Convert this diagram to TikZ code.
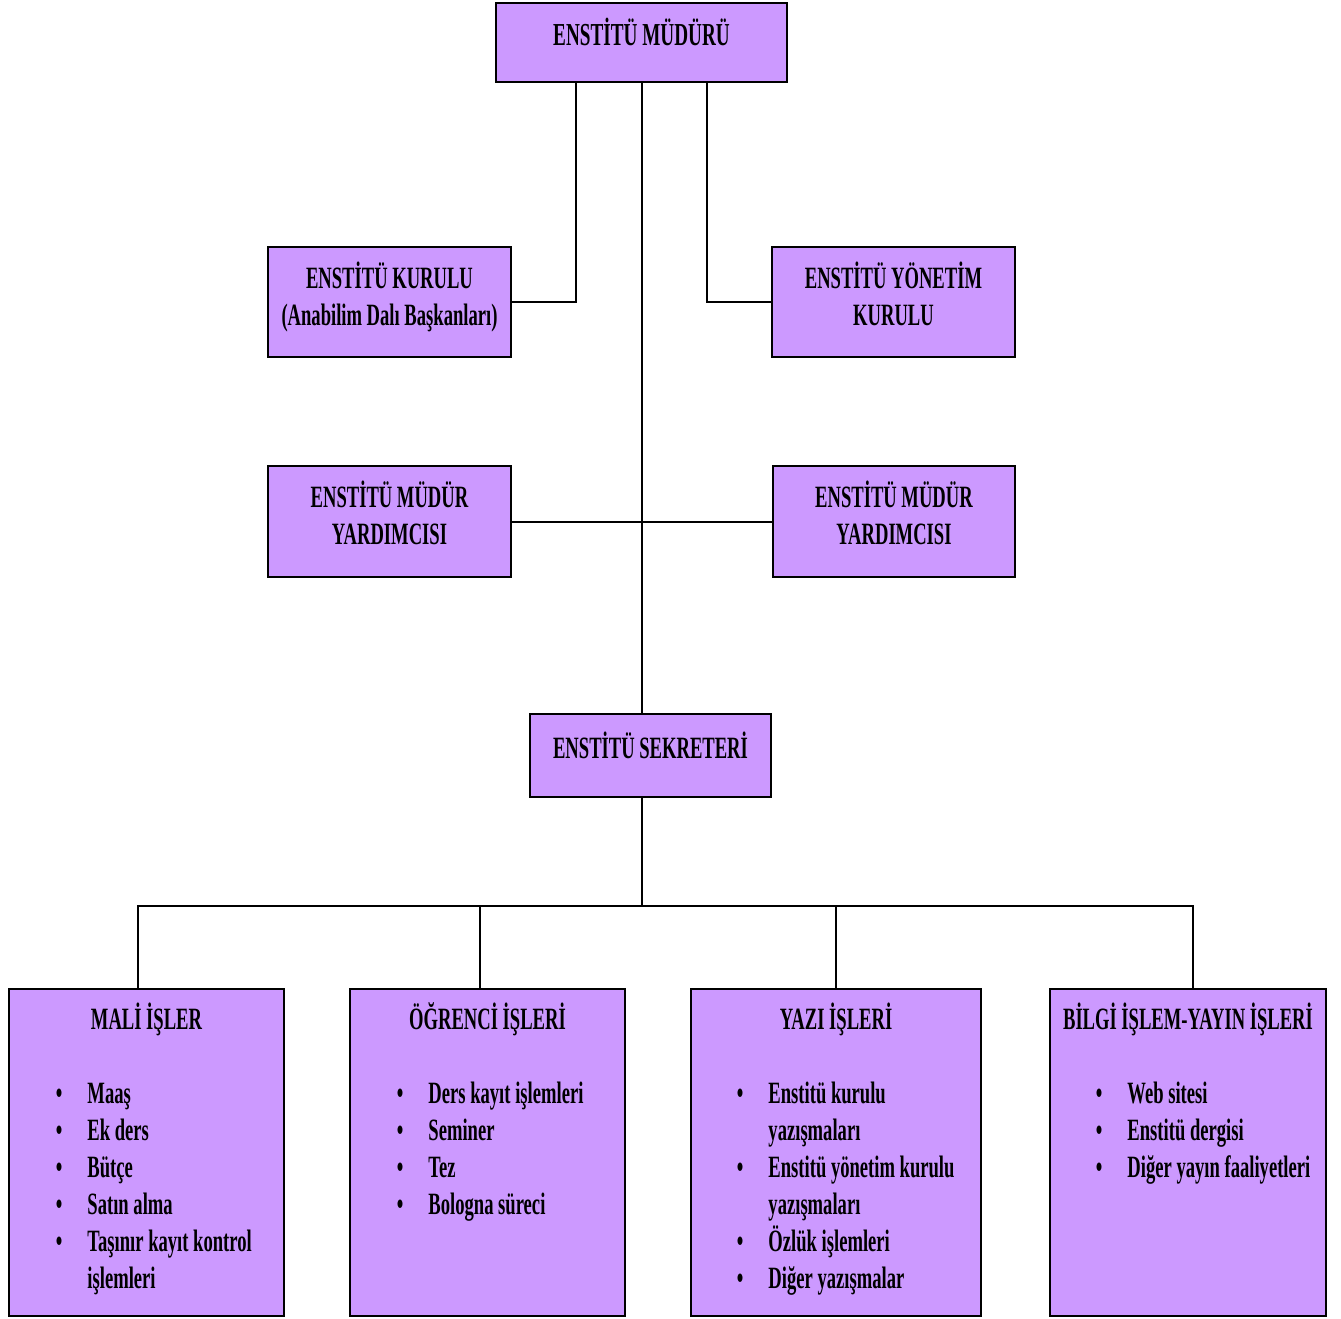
\documentclass[tikz,border=0pt]{standalone}
\usepackage{fontspec}
\setmainfont{Liberation Serif}[FakeStretch=0.6]
\usetikzlibrary{positioning}
\definecolor{lavender}{RGB}{204,153,255}
\tikzset{
        boxnode/.style={align=center,inner sep=0pt,font=\fontsize{31}{37}\selectfont\bfseries},
        % Office boxes
        node_office/.style={boxnode, rectangle, draw=black, line width=2.5pt, fill=lavender},
        % Unit boxes at the bottom
        node_unit/.style={node_office, minimum height=327pt},
        % Titles and task lists inside the unit boxes
        node_title/.style={boxnode, anchor=base},
        node_list/.style={boxnode, align=left, anchor=north west},
        % Connectors
        link/.style={draw=black, line width=2pt}
}
\newcommand{\uptext}[2][3pt]{\raisebox{#1}[\height][\depth]{\begin{tabular}{@{}c@{}}#2\end{tabular}}}
\newcommand{\tasks}[1]{\begin{tabular}{@{}l@{\hspace{25pt}}l@{}}#1\end{tabular}}

\begin{document}
\begin{tikzpicture}[x=1pt, y=-1pt]
    \useasboundingbox (0,0) rectangle (1341,1318);
    \fill[white] (0,0) rectangle (1341,1318);

    \node[node_office, minimum width=291pt, minimum height=79pt] (mudur) at (641.5,42.5) {\uptext[5pt]{\fontsize{32}{37}\selectfont ENSTİTÜ MÜDÜRÜ}};
    \node[node_office, minimum width=243pt, minimum height=110pt] (kurulu) at (389.5,302) {\uptext{ENSTİTÜ KURULU\\(Anabilim Dalı Başkanları)}};
    \node[node_office, minimum width=243pt, minimum height=110pt] (yonetim) at (893.5,302) {\uptext{ENSTİTÜ YÖNETİM\\KURULU}};
    \node[node_office, minimum width=243pt, minimum height=111pt] (yard_sol) at (389.5,521.5) {\uptext{ENSTİTÜ MÜDÜR\\YARDIMCISI}};
    \node[node_office, minimum width=242pt, minimum height=111pt] (yard_sag) at (894,521.5) {\uptext{ENSTİTÜ MÜDÜR\\YARDIMCISI}};
    \node[node_office, minimum width=241pt, minimum height=83pt] (sekreter) at (650.5,755.5) {\uptext[5pt]{ENSTİTÜ SEKRETERİ}};

    \node[node_unit, minimum width=275pt] (mali) at (146.5,1152.5) {};
    \node[node_unit, minimum width=275pt] (ogrenci) at (487.5,1152.5) {};
    \node[node_unit, minimum width=290pt] (yazi) at (836,1152.5) {};
    \node[node_unit, minimum width=276pt] (bilgi) at (1188,1152.5) {};

    \node[node_title] (mali_title) at ([shift={(0,42)}]mali.north) {MALİ İŞLER};
    \node[node_title] (ogrenci_title) at ([shift={(0,42)}]ogrenci.north) {ÖĞRENCİ İŞLERİ};
    \node[node_title] (yazi_title) at ([shift={(0,42)}]yazi.north) {YAZI İŞLERİ};
    \node[node_title] (bilgi_title) at ([shift={(0,42)}]bilgi.north) {BİLGİ İŞLEM-YAYIN İŞLERİ};

    \node[node_list] (mali_list) at ([shift={(48,90)}]mali.north west)
        {\tasks{• & Maaş\\ • & Ek ders\\ • & Bütçe\\ • & Satın alma\\ • & Taşınır kayıt kontrol\\ & işlemleri}};
    \node[node_list] (ogrenci_list) at ([shift={(48,90)}]ogrenci.north west)
        {\tasks{• & Ders kayıt işlemleri\\ • & Seminer\\ • & Tez\\ • & Bologna süreci}};
    \node[node_list] (yazi_list) at ([shift={(47,90)}]yazi.north west)
        {\tasks{• & Enstitü kurulu\\ & yazışmaları\\ • & Enstitü yönetim kurulu\\ & yazışmaları\\ • & Özlük işlemleri\\ • & Diğer yazışmalar}};
    \node[node_list] (bilgi_list) at ([shift={(47,90)}]bilgi.north west)
        {\tasks{• & Web sitesi\\ • & Enstitü dergisi\\ • & Diğer yayın faaliyetleri}};

    \coordinate (bus) at (641.5,906);

    % upper links
    \draw[link] ([xshift=-65.5pt]mudur.south) |- (kurulu.east);
    \draw[link] ([xshift=65.5pt]mudur.south) |- (yonetim.west);
    \draw[link] (mudur.south) -- (mudur.south |- sekreter.north);
    \draw[link] (yard_sol.east) -- (yard_sag.west);

    % lower links
    \draw[link] (sekreter.south -| bus) -- (bus);
    \draw[link] ([xshift=-8.5pt]mali.north) |- (bus) -| ([xshift=5pt]bilgi.north);
    \draw[link] ([xshift=-7.5pt]ogrenci.north) -- ([xshift=-7.5pt]ogrenci.north |- bus);
    \draw[link] (yazi.north) -- (yazi.north |- bus);
\end{tikzpicture}
\end{document}
